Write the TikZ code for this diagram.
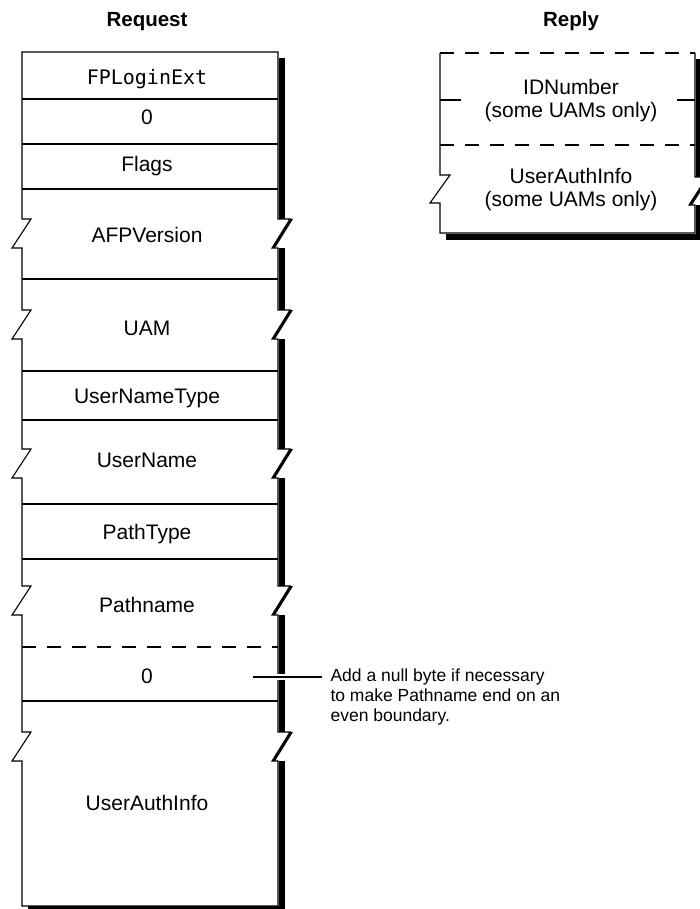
\documentclass[tikz,border=0pt]{standalone}
\usepackage{fontspec}
\setmainfont{Liberation Sans}
\newfontfamily\monofont{DejaVu Sans Mono}
\begin{document}
\begin{tikzpicture}[x=1pt,y=-1pt,
  every path/.style={line width=1.1pt},
  lbl/.style={inner sep=0pt, anchor=base, font=\fontsize{21}{25}\selectfont},
  monolbl/.style={inner sep=0pt, anchor=base, font=\monofont\fontsize{20}{25}\selectfont},
  ttl/.style={inner sep=0pt, anchor=base, font=\bfseries\fontsize{20.5}{25}\selectfont},
  twoline/.style={inner sep=0pt, anchor=center, align=center, font=\fontsize{21}{23.3}\selectfont},
  note/.style={inner sep=0pt, anchor=north west, align=left, font=\fontsize{17.5}{19.8}\selectfont},
  dsh/.style={dash pattern=on 14pt off 11pt},
  shadow/.style={fill=black, draw=none}]
\useasboundingbox (0,0) rectangle (699,909);

% ---------------- titles
\node[ttl] (reqtitle) at (147,27) {Request};
\node[ttl] (reptitle) at (571,27) {Reply};

% ---------------- request: shadow
\fill[shadow] (279,58) rectangle (285,219);
\fill[shadow] (279,248) rectangle (285,310);
\fill[shadow] (279,339) rectangle (285,449);
\fill[shadow] (279,478) rectangle (285,586);
\fill[shadow] (279,615) rectangle (285,732);
\fill[shadow] (279,761) rectangle (285,912);
\fill[shadow] (28,906) rectangle (285,912);
\foreach \t in {219,310,449,586,732}{
  \fill[shadow] (290,\t) -- (293,\t) -- (275,\t+29) -- (272,\t+29) -- cycle;
}
% ---------------- request: body
\filldraw[fill=white] (22,52) -- (278,52)
  -- (278,219) -- (290,219) -- (272,248) -- (278,248)
  -- (278,310) -- (290,310) -- (272,339) -- (278,339)
  -- (278,449) -- (290,449) -- (272,478) -- (278,478)
  -- (278,586) -- (290,586) -- (272,615) -- (278,615)
  -- (278,732) -- (290,732) -- (272,761) -- (278,761)
  -- (278,906) -- (22,906)
  -- (22,761) -- (12,761) -- (31,732) -- (22,732)
  -- (22,615) -- (12,615) -- (31,586) -- (22,586)
  -- (22,478) -- (12,478) -- (31,449) -- (22,449)
  -- (22,339) -- (12,339) -- (31,310) -- (22,310)
  -- (22,248) -- (12,248) -- (31,219) -- (22,219)
  -- cycle;
\foreach \y in {99,144,189,279,371,420,504,559,701}{
  \draw (22,\y) -- (278,\y);
}
\draw[dsh] (22,647) -- (278,647);

% ---------------- request: labels
\node[monolbl] (fplogin) at (147,85) {FPLoginExt};
\node[lbl] (zero1) at (147,125) {0};
\node[lbl] (flags) at (147,172) {Flags};
\node[lbl] (afpver) at (147,242.5) {AFPVersion};
\node[lbl] (uam) at (147,335.5) {UAM};
\node[lbl] (untype) at (147,403) {UserNameType};
\node[lbl] (uname) at (147,467) {UserName};
\node[lbl] (ptype) at (147,539) {PathType};
\node[lbl] (pname) at (147,612) {Pathname};
\node[lbl] (zero2) at (147,683) {0};
\node[lbl] (uai) at (147,810) {UserAuthInfo};

% ---------------- annotation
\coordinate (nullpt) at (253,677);
\coordinate (noteend) at (322,677);
\draw[white, line width=6pt] (nullpt) -- (noteend);
\draw (nullpt) -- (noteend);
\node[note] (note) at (330,668.5) {Add a null byte if necessary\\to make Pathname end on an\\even boundary.};

% ---------------- reply: shadow
\fill[shadow] (696,59) rectangle (702,177);
\fill[shadow] (696,205) rectangle (702,240);
\fill[shadow] (446,234) rectangle (702,240);
\fill[shadow] (707,177) -- (710,177) -- (692,205) -- (689,205) -- cycle;
% ---------------- reply: body
\fill[white] (440,53) -- (695,53) -- (695,177) -- (707,177) -- (689,205)
  -- (695,205) -- (695,233) -- (440,233) -- (440,203) -- (430,203)
  -- (450,175) -- (440,175) -- cycle;
\draw (440,53) -- (440,175) -- (450,175) -- (430,203) -- (440,203)
  -- (440,233) -- (695,233) -- (695,205) -- (689,205) -- (707,177)
  -- (695,177) -- (695,53);
\draw[dsh] (440,53) -- (695,53);
\draw[dsh] (440,145) -- (695,145);
\draw (440,100) -- (461,100);
\draw (677,100) -- (695,100);
\node[twoline] (idnum) at (571,100.5) {IDNumber\\(some UAMs only)};
\node[twoline] (ruai) at (571,189.5) {UserAuthInfo\\(some UAMs only)};
\end{tikzpicture}
\end{document}
